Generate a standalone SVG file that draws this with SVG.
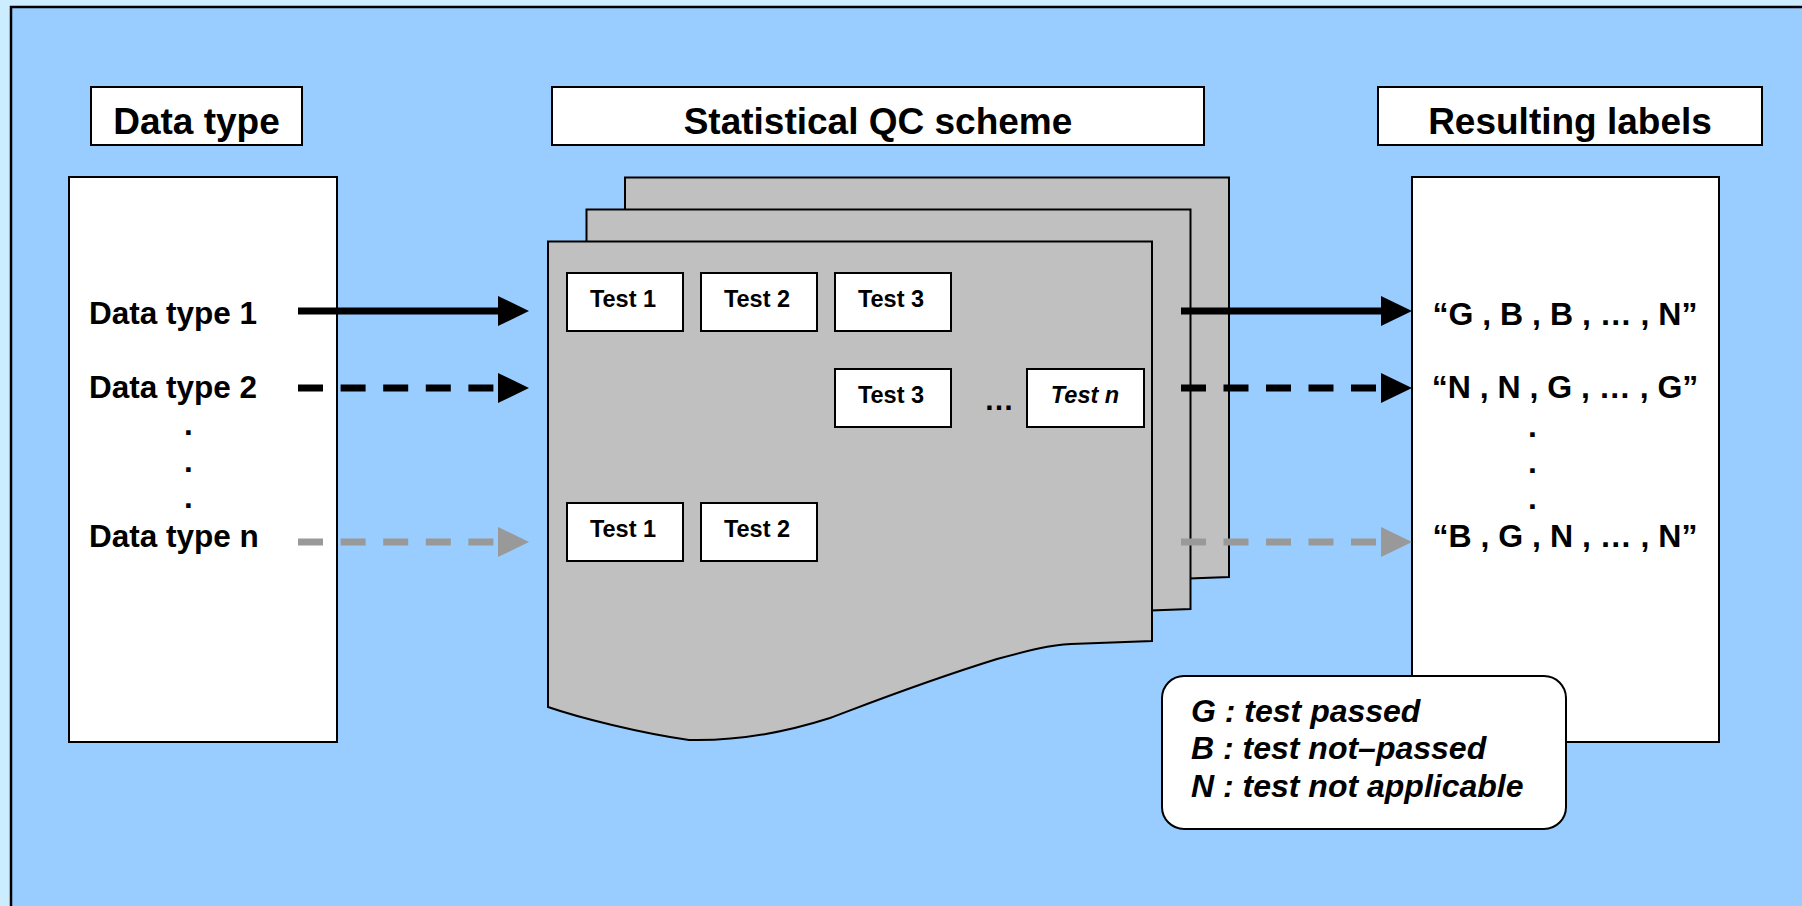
<svg xmlns="http://www.w3.org/2000/svg" xmlns:xlink="http://www.w3.org/1999/xlink" width="1802" height="906" viewBox="0 0 1802 906">
<style>
.box{fill:#fff;stroke:#000;stroke-width:2}
.page{fill:#C0C0C0;stroke:#000;stroke-width:2}
.hdr{font-family:"Liberation Sans",Arial,sans-serif;font-weight:bold;font-size:37px;text-anchor:middle;fill:#000}
.lbl{font-family:"Liberation Sans",Arial,sans-serif;font-weight:bold;font-size:31.5px;fill:#000}
.res{font-family:"Liberation Sans",Arial,sans-serif;font-weight:bold;font-size:32px;text-anchor:middle;fill:#000}
.tst{font-family:"Liberation Sans",Arial,sans-serif;font-weight:bold;font-size:23.5px;text-anchor:middle;fill:#000}
.leg{font-family:"Liberation Sans",Arial,sans-serif;font-weight:bold;font-style:italic;font-size:32px;fill:#000}
.ln{fill:none;stroke-width:7}
.blk{stroke:#000}
.gry{stroke:#999}
</style>
<defs>
<path id="doc" d="M548,241.5 H1152 V641 L1071,644 C1050,645 1030,650 997,659 C920,683 870,703 830,718 C780,734 730,741 689,740 C640,733 580,718 548,707 Z"/>
<marker id="ahB" markerUnits="userSpaceOnUse" markerWidth="32" markerHeight="32" refX="0" refY="15" orient="auto" viewBox="0 0 32 32">
<path d="M0,0 L31,15 L0,30 Z" fill="#000"/>
</marker>
<marker id="ahG" markerUnits="userSpaceOnUse" markerWidth="32" markerHeight="32" refX="0" refY="15" orient="auto" viewBox="0 0 32 32">
<path d="M0,0 L31,15 L0,30 Z" fill="#999"/>
</marker>
</defs>
<rect x="0" y="0" width="1802" height="906" fill="#CCECFF"/>
<rect x="11" y="7" width="1810" height="920" fill="#99CCFF" stroke="#000" stroke-width="2.5"/>

<g id="hdr-datatype">
<rect class="box" x="91" y="87" width="211" height="58"/>
<text class="hdr" x="196.5" y="134">Data type</text>
</g>
<g id="hdr-qc">
<rect class="box" x="552" y="87" width="652" height="58"/>
<text class="hdr" x="878" y="134">Statistical QC scheme</text>
</g>
<g id="hdr-results">
<rect class="box" x="1378" y="87" width="384" height="58"/>
<text class="hdr" x="1570" y="134">Resulting labels</text>
</g>

<g id="data-types">
<rect class="box" x="69" y="177" width="268" height="565"/>
<text class="lbl" x="89" y="324">Data type 1</text>
<text class="lbl" x="89" y="398">Data type 2</text>
<text class="lbl" x="184" y="435">.</text>
<text class="lbl" x="184" y="472">.</text>
<text class="lbl" x="184" y="508">.</text>
<text class="lbl" x="89" y="547">Data type n</text>
</g>

<g id="qc-scheme">
<use xlink:href="#doc" class="page" transform="translate(77,-64)"/>
<use xlink:href="#doc" class="page" transform="translate(38.5,-32)"/>
<use xlink:href="#doc" class="page"/>
<g id="test-r1">
<rect class="box" x="567" y="273" width="116" height="58"/>
<text class="tst" x="623" y="307">Test 1</text>
<rect class="box" x="701" y="273" width="116" height="58"/>
<text class="tst" x="757" y="307">Test 2</text>
<rect class="box" x="835" y="273" width="116" height="58"/>
<text class="tst" x="891" y="307">Test 3</text>
</g>
<g id="test-r2">
<rect class="box" x="835" y="369" width="116" height="58"/>
<text class="tst" x="891" y="403">Test 3</text>
<text class="tst" x="999" y="410" style="font-size:30px">…</text>
<rect class="box" x="1027" y="369" width="117" height="58"/>
<text class="tst" x="1085" y="403" font-style="italic">Test n</text>
</g>
<g id="test-r3">
<rect class="box" x="567" y="503" width="116" height="58"/>
<text class="tst" x="623" y="537">Test 1</text>
<rect class="box" x="701" y="503" width="116" height="58"/>
<text class="tst" x="757" y="537">Test 2</text>
</g>
</g>

<g id="results">
<rect class="box" x="1412" y="177" width="307" height="565"/>
<text class="res" x="1565" y="325">“G , B , B , … , N”</text>
<text class="res" x="1565" y="398">“N , N , G , … , G”</text>
<text class="res" x="1532.5" y="437">.</text>
<text class="res" x="1532.5" y="473">.</text>
<text class="res" x="1532.5" y="509">.</text>
<text class="res" x="1565" y="547">“B , G , N , … , N”</text>
</g>

<g id="connectors">
<line class="ln blk" x1="298" y1="311" x2="498" y2="311" marker-end="url(#ahB)"/>
<line class="ln blk" x1="298" y1="388" x2="498" y2="388" stroke-dasharray="25 17.6" marker-end="url(#ahB)"/>
<line class="ln gry" x1="298" y1="542" x2="498" y2="542" stroke-dasharray="25 17.6" marker-end="url(#ahG)"/>
<line class="ln blk" x1="1181" y1="311" x2="1381" y2="311" marker-end="url(#ahB)"/>
<line class="ln blk" x1="1181" y1="388" x2="1381" y2="388" stroke-dasharray="25 17.5" marker-end="url(#ahB)"/>
<line class="ln gry" x1="1181" y1="542" x2="1381" y2="542" stroke-dasharray="25 17.5" marker-end="url(#ahG)"/>
</g>

<g id="legend">
<rect class="box" x="1162" y="676" width="404" height="153" rx="22" ry="22"/>
<text class="leg" x="1191" y="722">G : test passed</text>
<text class="leg" x="1191" y="759">B : test not–passed</text>
<text class="leg" x="1191" y="797">N : test not applicable</text>
</g>
</svg>
